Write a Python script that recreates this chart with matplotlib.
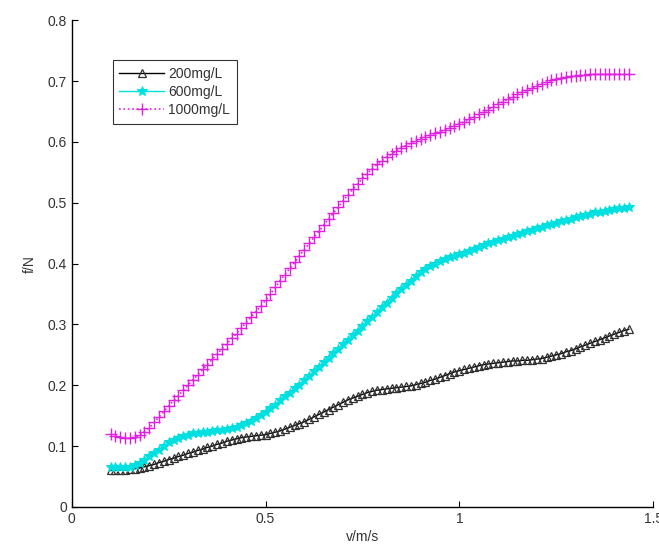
import matplotlib
matplotlib.use("Agg")
import matplotlib.pyplot as plt

plt.rcParams['font.family'] = ['Liberation Sans', 'DejaVu Sans']

v = [0.1000, 0.1125, 0.1250, 0.1375, 0.1500, 0.1625, 0.1750, 0.1875, 0.2000, 0.2125,
     0.2250, 0.2375, 0.2500, 0.2625, 0.2750, 0.2875, 0.3000, 0.3125, 0.3250, 0.3375,
     0.3500, 0.3625, 0.3750, 0.3875, 0.4000, 0.4125, 0.4250, 0.4375, 0.4500, 0.4625,
     0.4750, 0.4875, 0.5000, 0.5125, 0.5250, 0.5375, 0.5500, 0.5625, 0.5750, 0.5875,
     0.6000, 0.6125, 0.6250, 0.6375, 0.6500, 0.6625, 0.6750, 0.6875, 0.7000, 0.7125,
     0.7250, 0.7375, 0.7500, 0.7625, 0.7750, 0.7875, 0.8000, 0.8125, 0.8250, 0.8375,
     0.8500, 0.8625, 0.8750, 0.8875, 0.9000, 0.9125, 0.9250, 0.9375, 0.9500, 0.9625,
     0.9750, 0.9875, 1.0000, 1.0125, 1.0250, 1.0375, 1.0500, 1.0625, 1.0750, 1.0875,
     1.1000, 1.1125, 1.1250, 1.1375, 1.1500, 1.1625, 1.1750, 1.1875, 1.2000, 1.2125,
     1.2250, 1.2375, 1.2500, 1.2625, 1.2750, 1.2875, 1.3000, 1.3125, 1.3250, 1.3375,
     1.3500, 1.3625, 1.3750, 1.3875, 1.4000, 1.4125, 1.4250, 1.4375]

f_200 = [0.060, 0.060, 0.061, 0.061, 0.062, 0.063, 0.064, 0.066, 0.068, 0.070,
         0.073, 0.075, 0.078, 0.080, 0.083, 0.085, 0.088, 0.090, 0.093, 0.095,
         0.098, 0.100, 0.103, 0.105, 0.108, 0.110, 0.112, 0.114, 0.115, 0.116,
         0.117, 0.118, 0.119, 0.121, 0.123, 0.125, 0.128, 0.131, 0.134, 0.137,
         0.140, 0.144, 0.148, 0.152, 0.156, 0.160, 0.164, 0.168, 0.172, 0.176,
         0.179, 0.182, 0.185, 0.188, 0.190, 0.192, 0.193, 0.194, 0.195, 0.196,
         0.197, 0.198, 0.199, 0.201, 0.203, 0.205, 0.208, 0.210, 0.213, 0.216,
         0.219, 0.222, 0.224, 0.226, 0.228, 0.230, 0.232, 0.234, 0.235, 0.236,
         0.237, 0.238, 0.239, 0.240, 0.240, 0.241, 0.241, 0.242, 0.243, 0.244,
         0.246, 0.248, 0.250, 0.252, 0.255, 0.257, 0.260, 0.263, 0.266, 0.269,
         0.272, 0.275, 0.278, 0.281, 0.284, 0.287, 0.290, 0.292]

f_600 = [0.066, 0.065, 0.065, 0.065, 0.066, 0.069, 0.072, 0.077, 0.083, 0.088,
         0.094, 0.100, 0.106, 0.110, 0.114, 0.117, 0.119, 0.121, 0.122, 0.123,
         0.124, 0.125, 0.126, 0.127, 0.128, 0.130, 0.132, 0.135, 0.138, 0.142,
         0.146, 0.151, 0.156, 0.162, 0.168, 0.175, 0.182, 0.188, 0.195, 0.201,
         0.208, 0.215, 0.223, 0.230, 0.238, 0.245, 0.253, 0.260, 0.268, 0.275,
         0.283, 0.290, 0.298, 0.305, 0.313, 0.320, 0.328, 0.336, 0.344, 0.351,
         0.358, 0.365, 0.372, 0.379, 0.386, 0.391, 0.396, 0.400, 0.404, 0.407,
         0.410, 0.413, 0.416, 0.418, 0.421, 0.424, 0.427, 0.430, 0.433, 0.435,
         0.438, 0.440, 0.443, 0.445, 0.448, 0.450, 0.453, 0.455, 0.458, 0.460,
         0.463, 0.465, 0.467, 0.470, 0.472, 0.474, 0.476, 0.478, 0.480, 0.482,
         0.484, 0.485, 0.487, 0.488, 0.490, 0.491, 0.492, 0.493]

f_1000 = [0.120, 0.117, 0.115, 0.113, 0.113, 0.115, 0.118, 0.124, 0.130, 0.139,
          0.148, 0.157, 0.166, 0.175, 0.183, 0.192, 0.200, 0.209, 0.217, 0.226,
          0.234, 0.243, 0.251, 0.260, 0.268, 0.277, 0.285, 0.294, 0.303, 0.312,
          0.321, 0.330, 0.340, 0.350, 0.361, 0.372, 0.382, 0.392, 0.402, 0.413,
          0.423, 0.433, 0.443, 0.453, 0.463, 0.473, 0.483, 0.493, 0.503, 0.513,
          0.522, 0.531, 0.540, 0.548, 0.556, 0.563, 0.569, 0.575, 0.580, 0.585,
          0.590, 0.594, 0.598, 0.602, 0.605, 0.608, 0.611, 0.614, 0.617, 0.620,
          0.623, 0.626, 0.630, 0.633, 0.637, 0.641, 0.645, 0.649, 0.653, 0.658,
          0.662, 0.666, 0.670, 0.674, 0.678, 0.682, 0.685, 0.689, 0.692, 0.695,
          0.698, 0.701, 0.703, 0.705, 0.706, 0.708, 0.709, 0.710, 0.710, 0.711,
          0.711, 0.711, 0.711, 0.711, 0.711, 0.711, 0.711, 0.711]

labels = ['200mg/L', '600mg/L', '1000mg/L']
xticks = [0, 0.5, 1, 1.5]
xticklabels = ['0', '0.5', '1', '1.5']
yticks = [0, 0.1, 0.2, 0.3, 0.4, 0.5, 0.6, 0.7, 0.8]
yticklabels = ['0', '0.1', '0.2', '0.3', '0.4', '0.5', '0.6', '0.7', '0.8']

fig = plt.figure(figsize=(6.59, 5.57), dpi=100)
ax = fig.add_axes([0.109, 0.0898, 0.882, 0.874])

ax.plot(v, f_200, color='black', linestyle='-', linewidth=1.0, marker='^',
        markersize=6, markerfacecolor='none', markeredgecolor='#303030',
        markeredgewidth=0.9, label=labels[0])
ax.plot(v, f_600, color='#00e0e0', linestyle='-', linewidth=1.0, marker='*',
        markersize=7, markeredgewidth=0.8, label=labels[1])
ax.plot(v, f_1000, color='#e020e0', linestyle=':', linewidth=1.2, marker='+',
        markersize=9, markeredgewidth=1.0, label=labels[2])

ax.set_xlim(0, 1.5)
ax.set_ylim(0, 0.8)
ax.set_xticks(xticks)
ax.set_xticklabels(xticklabels)
ax.set_yticks(yticks)
ax.set_yticklabels(yticklabels)
ax.tick_params(direction='in', length=4, labelsize=10, labelcolor='#333333', width=0.8)

for s in ['top', 'right']:
    ax.spines[s].set_visible(False)
for s in ['left', 'bottom']:
    ax.spines[s].set_linewidth(1.0)

ax.set_xlabel('v/m/s', fontsize=10, color='#333333', labelpad=3)
ax.set_ylabel('f/N', fontsize=10, color='#333333', labelpad=8)

leg = ax.legend(loc='upper left', bbox_to_anchor=(0.07, 0.918), fontsize=10,
                frameon=True, fancybox=False, edgecolor='black',
                handlelength=3.2, borderpad=0.5, labelspacing=0.3,
                handletextpad=0.3, borderaxespad=0)
leg.get_frame().set_linewidth(0.8)
for t in leg.get_texts():
    t.set_color('#333333')

fig.savefig('out.png', dpi=100)
